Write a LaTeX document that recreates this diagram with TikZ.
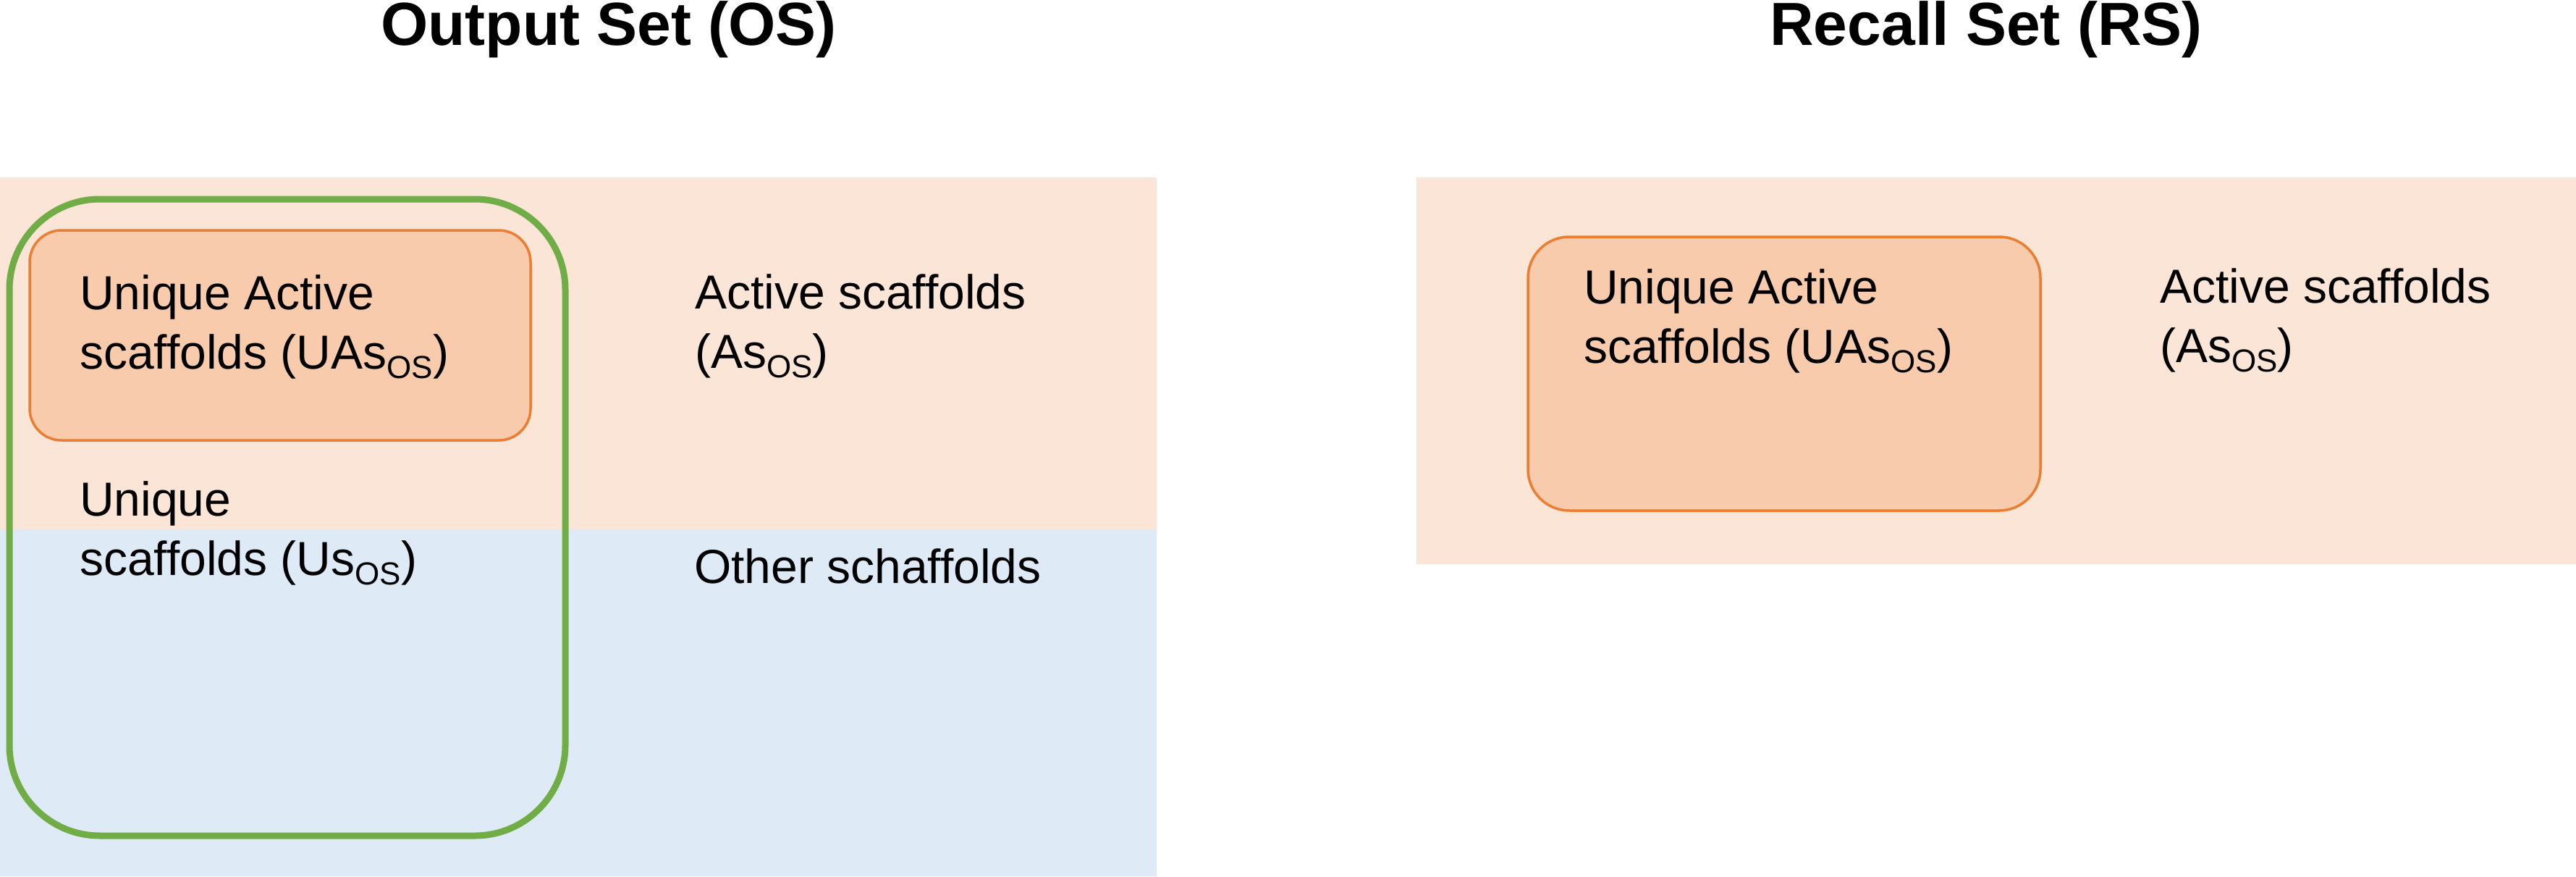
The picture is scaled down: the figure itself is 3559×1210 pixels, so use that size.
\documentclass[tikz,border=0pt]{standalone}
\usepackage{fontspec}
\setmainfont{Liberation Sans}
\definecolor{peach}{HTML}{FBE5D6}
\definecolor{lblue}{HTML}{DEEBF7}
\definecolor{ofill}{HTML}{F8CBAD}
\definecolor{ostroke}{HTML}{ED7D31}
\definecolor{gstroke}{HTML}{70AD47}
\newcommand\mysub[1]{\raisebox{-13pt}{\fontsize{44}{44}\selectfont #1}}
\newcommand\twolines[2]{\vtop{\hbox{#1}\hbox{#2}}}
\tikzset{
  lbl/.style={anchor=base west, inner sep=0pt, font=\fontsize{66}{82}\selectfont},
  ttl/.style={anchor=base, inner sep=0pt, font=\fontsize{84}{100}\selectfont\bfseries},
  obox/.style={fill=ofill, draw=ostroke, line width=3.5pt},
  gbox/.style={draw=gstroke, line width=9pt},
}
\begin{document}
\begin{tikzpicture}[x=1pt,y=-1pt]
\useasboundingbox (0,0) rectangle (3559,1210);
% backgrounds
\fill[peach] (0,245) rectangle (1598,731);
\fill[lblue] (0,731) rectangle (1598,1210);
\fill[peach] (1957,245) rectangle (3559,779);
% boxes
\draw[gbox, rounded corners=125pt] (13,275) rectangle (781,1154);
\draw[obox, rounded corners=44pt] (41,318) rectangle (733,608);
\draw[obox, rounded corners=57pt] (2111,327) rectangle (2819,705);
% titles
\node[ttl] (tos) at (841,62) {Output Set (OS)};
\node[ttl] (trs) at (2744,62) {Recall Set (RS)};
% labels left
\node[lbl] (lua) at (110,427) {\twolines{Unique Active}{scaffolds (UAs\mysub{OS})}};
\node[lbl] (las) at (960,426) {\twolines{Active scaffolds}{(As\mysub{OS})}};
\node[lbl] (lus) at (110,712) {\twolines{Unique}{scaffolds (Us\mysub{OS})}};
\node[lbl] (loth) at (959,805) {Other schaffolds};
% labels right
\node[lbl] (rua) at (2188,419) {\twolines{Unique Active}{scaffolds (UAs\mysub{OS})}};
\node[lbl] (ras) at (2984,418) {\twolines{Active scaffolds}{(As\mysub{OS})}};
\end{tikzpicture}
\end{document}
